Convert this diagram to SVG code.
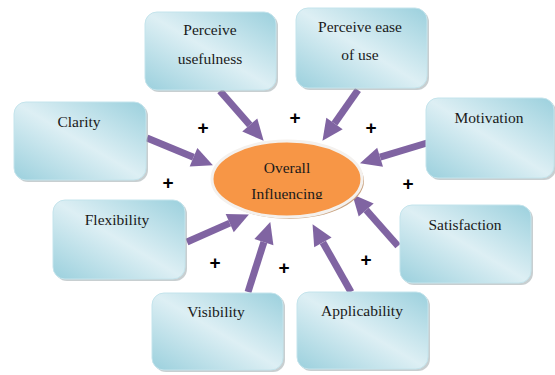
<svg xmlns="http://www.w3.org/2000/svg" width="555" height="375" viewBox="0 0 555 375">
  <defs>
    <linearGradient id="boxg" x1="1" y1="0" x2="0" y2="1">
      <stop offset="0" stop-color="#9bd0dd"/>
      <stop offset="0.5" stop-color="#ddeff4"/>
      <stop offset="1" stop-color="#9bd0dd"/>
    </linearGradient>
    <marker id="ah" markerUnits="userSpaceOnUse" markerWidth="20" markerHeight="20" refX="0" refY="10" orient="auto" overflow="visible">
      <path d="M0,0 L21,10 L0,20 z" fill="#8064a2"/>
    </marker>
    <clipPath id="ellclip">
      <rect x="0" y="0" width="555" height="199"/>
    </clipPath>
  </defs>
  <style>
    .box { fill: url(#boxg); stroke: #c4e4ec; stroke-width: 1; }
    .shadow { fill: #9aa8ac; opacity: 0.55; }
    .lbl { font-size: 15.5px; fill: #1a1a1a; text-anchor: middle; }
    .plus { font-size: 19px; font-weight: bold; fill: #000; text-anchor: middle; }
    .conn line { stroke: #8064a2; stroke-width: 7; marker-end: url(#ah); }
  </style>
  <rect width="555" height="375" fill="#ffffff"/>

  <g id="connectors" class="conn">
    <line x1="220" y1="91" x2="249.8" y2="125"/>
    <line x1="358" y1="90" x2="334.5" y2="123.6"/>
    <line x1="147" y1="138" x2="193.5" y2="157.3"/>
    <line x1="427" y1="143" x2="380.1" y2="157.2"/>
    <line x1="398" y1="246" x2="366.2" y2="210"/>
    <line x1="351" y1="292" x2="322.9" y2="242.4"/>
    <line x1="248" y1="292" x2="263.9" y2="242.1"/>
    <line x1="187" y1="242" x2="229.7" y2="223.1"/>
  </g>

  <g font-family="Liberation Serif, Times New Roman, DejaVu Serif, serif">
  <g id="center">
    <ellipse cx="289" cy="181" rx="75" ry="38" fill="#c9a27f"/>
    <ellipse cx="287" cy="179" rx="75" ry="38" fill="#f79646" stroke="#f4f1ee" stroke-width="3"/>
    <text class="lbl" x="287" y="173">Overall</text>
    <text class="lbl" x="287" y="199" clip-path="url(#ellclip)">Influencing</text>
  </g>

  <g id="n-usefulness">
    <rect class="shadow" x="147" y="14" width="131" height="78" rx="12"/>
    <rect class="box" x="145" y="12" width="131" height="78" rx="12"/>
    <text class="lbl" x="210" y="35">Perceive</text>
    <text class="lbl" x="210" y="64">usefulness</text>
  </g>
  <g id="n-ease">
    <rect class="shadow" x="298" y="10" width="131" height="80" rx="12"/>
    <rect class="box" x="296" y="8" width="131" height="80" rx="12"/>
    <text class="lbl" x="360" y="32">Perceive ease</text>
    <text class="lbl" x="360" y="60">of use</text>
  </g>
  <g id="n-clarity">
    <rect class="shadow" x="16" y="104" width="132" height="78" rx="12"/>
    <rect class="box" x="14" y="102" width="132" height="78" rx="12"/>
    <text class="lbl" x="79" y="127">Clarity</text>
  </g>
  <g id="n-motivation">
    <rect class="shadow" x="428" y="100" width="128" height="80" rx="12"/>
    <rect class="box" x="426" y="98" width="128" height="80" rx="12"/>
    <text class="lbl" x="489" y="123">Motivation</text>
  </g>
  <g id="n-satisfaction">
    <rect class="shadow" x="402" y="207" width="131" height="78" rx="12"/>
    <rect class="box" x="400" y="205" width="131" height="78" rx="12"/>
    <text class="lbl" x="465" y="230">Satisfaction</text>
  </g>
  <g id="n-flexibility">
    <rect class="shadow" x="55" y="202" width="132" height="79" rx="12"/>
    <rect class="box" x="53" y="200" width="132" height="79" rx="12"/>
    <text class="lbl" x="117" y="225">Flexibility</text>
  </g>
  <g id="n-visibility">
    <rect class="shadow" x="154" y="295" width="131" height="77" rx="12"/>
    <rect class="box" x="152" y="293" width="131" height="77" rx="12"/>
    <text class="lbl" x="216" y="317">Visibility</text>
  </g>
  <g id="n-applicability">
    <rect class="shadow" x="299" y="294" width="131" height="77" rx="12"/>
    <rect class="box" x="297" y="292" width="131" height="77" rx="12"/>
    <text class="lbl" x="362" y="316">Applicability</text>
  </g>
  </g>

  <g id="signs" font-family="Liberation Sans, Arial, DejaVu Sans, sans-serif">
    <text class="plus" x="203" y="134">+</text>
    <text class="plus" x="295" y="124">+</text>
    <text class="plus" x="371" y="134">+</text>
    <text class="plus" x="168" y="189">+</text>
    <text class="plus" x="408" y="190">+</text>
    <text class="plus" x="215" y="269">+</text>
    <text class="plus" x="284" y="274">+</text>
    <text class="plus" x="366" y="266">+</text>
  </g>
</svg>
